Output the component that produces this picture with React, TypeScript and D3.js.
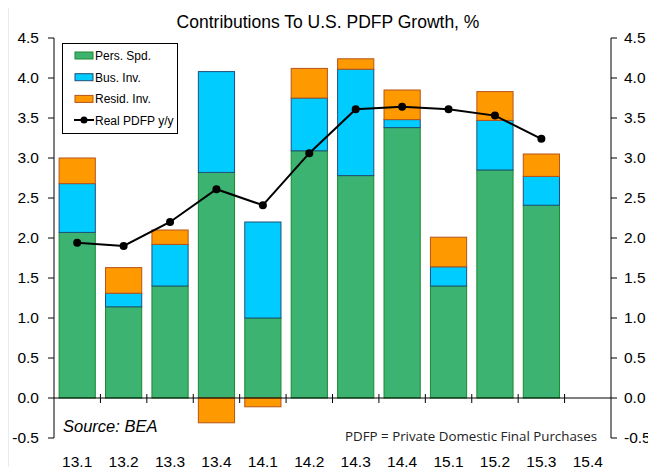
import React from 'react';
import * as d3 from 'd3';

const quarters = ['13.1', '13.2', '13.3', '13.4', '14.1', '14.2', '14.3', '14.4', '15.1', '15.2', '15.3', '15.4'];
const persSpd = [2.07, 1.14, 1.40, 2.82, 1.00, 3.09, 2.78, 3.38, 1.40, 2.85, 2.41];
const busInv = [0.61, 0.17, 0.52, 1.26, 1.20, 0.66, 1.33, 0.10, 0.24, 0.62, 0.36];
const residInv = [0.32, 0.32, 0.18, -0.31, -0.11, 0.37, 0.13, 0.37, 0.37, 0.36, 0.28];
const realPdfp = [1.94, 1.90, 2.20, 2.61, 2.41, 3.06, 3.61, 3.64, 3.61, 3.53, 3.24];
const yTicks = [-0.5, 0, 0.5, 1, 1.5, 2, 2.5, 3, 3.5, 4, 4.5];

const series = [
  { key: 'pers', label: 'Pers. Spd.', values: persSpd, fill: '#3cb371', stroke: '#1a8a2e' },
  { key: 'bus', label: 'Bus. Inv.', values: busInv, fill: '#00ccff', stroke: '#1f4e79' },
  { key: 'resid', label: 'Resid. Inv.', values: residInv, fill: '#ff9900', stroke: '#b5541a' },
];

const W = 656;
const H = 475;
const left = 54;
const right = 611;
const top = 38;
const bottom = 438;
const font = '"Liberation Sans", Arial, sans-serif';

export default function App() {
  const x = d3.scaleBand().domain(quarters).range([left, right]).paddingInner(0.22).paddingOuter(0.11);
  const xb = d3.scaleBand().domain(quarters).range([left, right]);
  const y = d3.scaleLinear().domain([-0.5, 4.5]).range([bottom, top]);

  const rows = persSpd.map((_, i) => {
    const r: any = { q: quarters[i] };
    series.forEach((s) => (r[s.key] = s.values[i]));
    return r;
  });
  const stacked = d3
    .stack()
    .keys(series.map((s) => s.key))
    .offset(d3.stackOffsetDiverging)(rows);

  const line = d3
    .line<number>()
    .x((_, i) => (xb(quarters[i]) as number) + xb.bandwidth() / 2)
    .y((d) => y(d));

  const y0 = y(0);

  return (
    <div style={{ margin: -8 }}>
      <svg width={W} height={H} style={{ display: 'block', fontFamily: font }}>
        <rect x={0} y={0} width={W} height={H} fill="#fff" />
        <path d={`M7.5,${H}V4.5H${W}`} fill="none" stroke="#95b3d7" strokeWidth={1.5} />
        <text x={328} y={28} textAnchor="middle" fontSize={17.5} fill="#000">
          Contributions To U.S. PDFP Growth, %
        </text>

        {/* bars */}
        {stacked.map((layer, li) => (
          <g key={layer.key}>
            {layer.map((d, i) => {
              const h = Math.abs(y(d[0]) - y(d[1]));
              if (h < 0.01) return null;
              return (
                <rect
                  key={i}
                  x={x(quarters[i])}
                  y={Math.min(y(d[0]), y(d[1]))}
                  width={x.bandwidth()}
                  height={h}
                  fill={series[li].fill}
                  stroke={series[li].stroke}
                  strokeWidth={1}
                />
              );
            })}
          </g>
        ))}

        {/* left axis */}
        <line x1={left} x2={left} y1={top} y2={bottom} stroke="#000" />
        {yTicks.map((t) => (
          <g key={'l' + t}>
            <line x1={left - 6} x2={left} y1={y(t)} y2={y(t)} stroke="#000" />
            <text x={39} y={y(t) + 5} textAnchor="end" fontSize={15.5}>
              {t.toFixed(1)}
            </text>
          </g>
        ))}
        {/* right axis */}
        <line x1={right} x2={right} y1={top} y2={bottom} stroke="#000" />
        {yTicks.map((t) => (
          <g key={'r' + t}>
            <line x1={right} x2={right + 6} y1={y(t)} y2={y(t)} stroke="#000" />
            <text x={624} y={y(t) + 5} textAnchor="start" fontSize={15.5}>
              {t.toFixed(1)}
            </text>
          </g>
        ))}

        {/* zero line with category ticks */}
        <line x1={left} x2={right} y1={y0} y2={y0} stroke="#000" />
        {quarters.slice(1).map((q) => (
          <line key={'t' + q} x1={xb(q)} x2={xb(q)} y1={y0 - 4} y2={y0 + 5} stroke="#000" />
        ))}
        {quarters.map((q) => (
          <text key={'x' + q} x={(xb(q) as number) + xb.bandwidth() / 2} y={467} textAnchor="middle" fontSize={15.5}>
            {q}
          </text>
        ))}

        {/* line series */}
        <path d={line(realPdfp) || ''} fill="none" stroke="#000" strokeWidth={2} />
        {realPdfp.map((v, i) => (
          <circle key={'c' + i} cx={(xb(quarters[i]) as number) + xb.bandwidth() / 2} cy={y(v)} r={4} fill="#000" />
        ))}

        {/* legend */}
        <rect x={62.5} y={43.5} width={115} height={90} fill="#fff" stroke="#000" />
        {series.map((s, i) => (
          <g key={'lg' + s.key}>
            <rect x={75} y={52 + i * 21.7} width={18} height={7} fill={s.fill} stroke={s.stroke} />
            <text x={95} y={60 + i * 21.7} fontSize={12}>
              {s.label}
            </text>
          </g>
        ))}
        <line x1={74} x2={94} y1={120} y2={120} stroke="#000" strokeWidth={2} />
        <circle cx={84} cy={120} r={3.5} fill="#000" />
        <text x={95} y={125} fontSize={12}>
          Real PDFP y/y
        </text>

        <text x={63} y={432} fontSize={16.5} fontStyle="italic">
          Source: BEA
        </text>
        <text
          x={345}
          y={441}
          fontSize={13}
          textLength={252}
          lengthAdjust="spacingAndGlyphs"
          fontFamily='"Open Sans", "Noto Sans", sans-serif'
          fill="#222"
        >
          PDFP = Private Domestic Final Purchases
        </text>
      </svg>
    </div>
  );
}
